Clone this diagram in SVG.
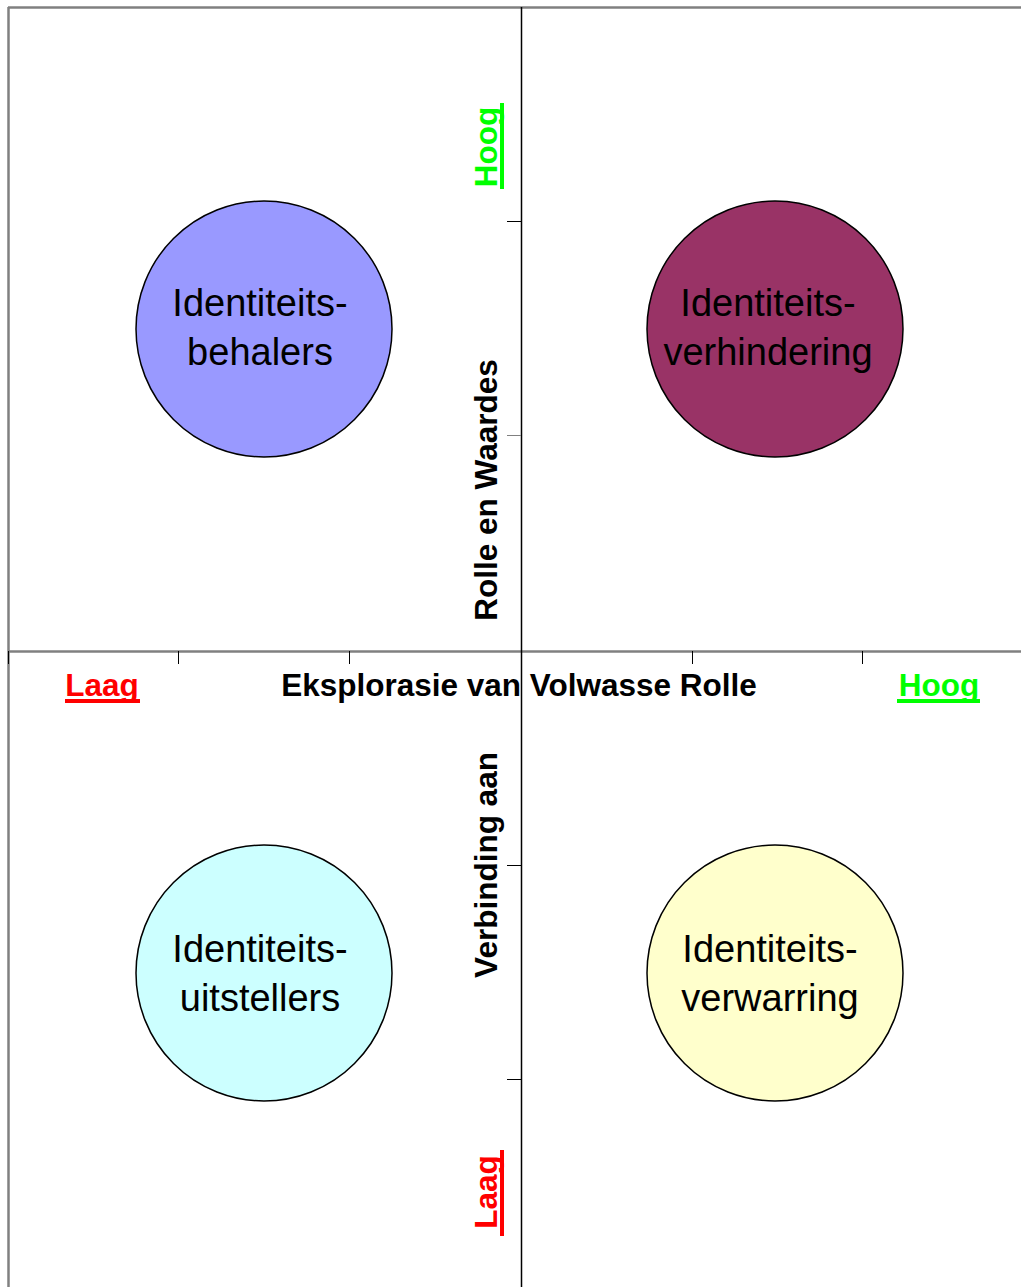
<svg xmlns="http://www.w3.org/2000/svg" width="1021" height="1287" viewBox="0 0 1021 1287">
<style>
.frame{stroke:#808080;stroke-width:2.5;fill:none}
.axisv{stroke:#000;stroke-width:1.5}
.tick{stroke:#000;stroke-width:1}
.circ{stroke:#000;stroke-width:1.5}
.lbl{font-family:"Liberation Sans",Arial,sans-serif;font-size:38px;fill:#000;text-anchor:middle}
.ax{font-family:"Liberation Sans",Arial,sans-serif;font-size:31.5px;font-weight:bold;text-anchor:middle}
</style>
<rect width="1021" height="1287" fill="#fff"/>
<g id="axes">
<line class="frame" x1="8" y1="7.5" x2="1021" y2="7.5"/>
<line class="frame" x1="8.5" y1="7" x2="8.5" y2="1287"/>
<line class="frame" x1="8" y1="651.5" x2="1021" y2="651.5"/>
<line class="axisv" x1="521.5" y1="7" x2="521.5" y2="1287"/>
<g class="tick">
<line x1="8.5" y1="651" x2="8.5" y2="664"/>
<line x1="178.5" y1="651" x2="178.5" y2="664"/>
<line x1="349.5" y1="651" x2="349.5" y2="664"/>
<line x1="692.5" y1="651" x2="692.5" y2="664"/>
<line x1="862.5" y1="651" x2="862.5" y2="664"/>
<line x1="507" y1="221.5" x2="521" y2="221.5"/>
<line x1="507" y1="435.5" x2="521" y2="435.5" stroke="#808080"/>
<line x1="507" y1="865.5" x2="521" y2="865.5"/>
<line x1="507" y1="1079.5" x2="521" y2="1079.5"/>
</g>
</g>
<g id="axis-labels">
<text class="ax" x="519" y="696" fill="#000">Eksplorasie van Volwasse Rolle</text>
<text class="ax" x="102" y="696" fill="#FF0000">Laag</text>
<rect x="65" y="699" width="75" height="4" fill="#FF0000"/>
<text class="ax" x="939" y="696" fill="#00FF00">Hoog</text>
<rect x="897" y="699" width="83" height="4" fill="#00FF00"/>
<text class="ax" transform="translate(497,490) rotate(-90)" fill="#000">Rolle en Waardes</text>
<text class="ax" transform="translate(497,865) rotate(-90)" fill="#000">Verbinding aan</text>
<text class="ax" transform="translate(497,147) rotate(-90)" fill="#00FF00">Hoog</text>
<rect x="500" y="103" width="4" height="86" fill="#00FF00"/>
<text class="ax" transform="translate(497,1192) rotate(-90)" fill="#FF0000">Laag</text>
<rect x="500" y="1150" width="4" height="86" fill="#FF0000"/>
</g>
<g id="node-behalers">
<circle class="circ" cx="264" cy="329" r="128" fill="#9999FF"/>
<text class="lbl" x="260" y="316">Identiteits-</text>
<text class="lbl" x="260" y="365">behalers</text>
</g>
<g id="node-verhindering">
<circle class="circ" cx="775" cy="329" r="128" fill="#993366"/>
<text class="lbl" x="768" y="316">Identiteits-</text>
<text class="lbl" x="768" y="365">verhindering</text>
</g>
<g id="node-uitstellers">
<circle class="circ" cx="264" cy="973" r="128" fill="#CCFFFF"/>
<text class="lbl" x="260" y="962">Identiteits-</text>
<text class="lbl" x="260" y="1011">uitstellers</text>
</g>
<g id="node-verwarring">
<circle class="circ" cx="775" cy="973" r="128" fill="#FFFFCC"/>
<text class="lbl" x="770" y="962">Identiteits-</text>
<text class="lbl" x="770" y="1011">verwarring</text>
</g>
</svg>
